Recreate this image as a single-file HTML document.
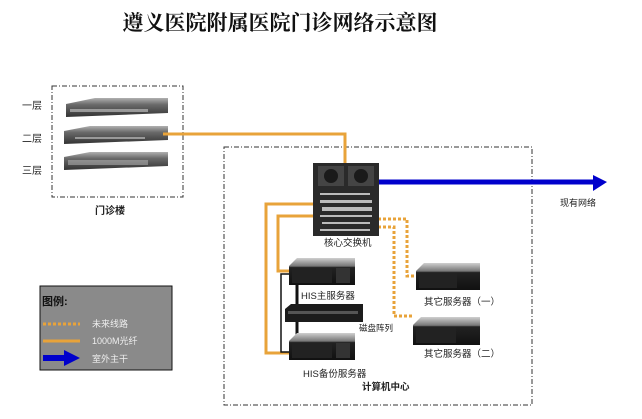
<!DOCTYPE html>
<html><head><meta charset="utf-8"><style>
html,body{margin:0;padding:0;background:#fff;}
svg{display:block;}
text{font-family:"Liberation Sans","Noto Sans CJK SC",sans-serif;fill:#222;}
</style></head><body>
<svg width="642" height="419" viewBox="0 0 642 419" xmlns="http://www.w3.org/2000/svg">
<defs>
<linearGradient id="sw" x1="0" y1="0" x2="0" y2="1"><stop offset="0" stop-color="#b0b0b0"/><stop offset="0.35" stop-color="#6a6a6a"/><stop offset="1" stop-color="#333"/></linearGradient>
<linearGradient id="sv" x1="0" y1="0" x2="0" y2="1"><stop offset="0" stop-color="#cfcfcf"/><stop offset="0.3" stop-color="#777"/><stop offset="0.35" stop-color="#222"/><stop offset="1" stop-color="#111"/></linearGradient>
</defs>
<text x="280" y="30" text-anchor="middle" style="font-family:'Liberation Serif','Noto Serif CJK SC',serif;font-weight:bold;font-size:21px;fill:#111">遵义医院附属医院门诊网络示意图</text>

<rect x="52" y="86" width="131" height="111" fill="none" stroke="#333" stroke-dasharray="5,2,1,2"/>
<g font-size="10"><text x="22" y="109">一层</text><text x="22" y="142">二层</text><text x="22" y="174">三层</text></g>
<text x="95" y="214" font-size="10" font-weight="bold">门诊楼</text>
<g>
<path d="M66 104 L95 98 L168 98 L168 113 L66 117 Z" fill="url(#sw)"/>
<rect x="70" y="109" width="78" height="3" fill="#ccc" opacity=".6"/>
<path d="M64 131 L90 126 L168 126 L168 140 L64 144 Z" fill="url(#sw)"/>
<rect x="75" y="137" width="70" height="2" fill="#ccc" opacity=".6"/>
<path d="M64 157 L90 152 L168 152 L168 166 L64 170 Z" fill="url(#sw)"/>
<rect x="68" y="160" width="80" height="5" fill="#bbb" opacity=".5"/>
</g>

<rect x="224" y="147" width="308" height="258" fill="none" stroke="#333" stroke-dasharray="5,2,1,2"/>

<polyline points="163,134 345,134 345,165" fill="none" stroke="#e8a33a" stroke-width="3"/>
<line x1="378" y1="182" x2="595" y2="182" stroke="#0000cc" stroke-width="5"/>
<polygon points="593,175 607,182 593,191" fill="#0000cc"/>
<text x="560" y="206" font-size="9">现有网络</text>

<polyline points="313,204 266,204 266,353 292,353" fill="none" stroke="#e8a33a" stroke-width="3"/>
<polyline points="313,216 278,216 278,271 292,271" fill="none" stroke="#e8a33a" stroke-width="3"/>
<polyline points="378,219 407,219 407,276 418,276" fill="none" stroke="#e8a33a" stroke-width="3" stroke-dasharray="3,2"/>
<polyline points="378,227 394,227 394,316 414,316" fill="none" stroke="#e8a33a" stroke-width="3" stroke-dasharray="3,2"/>
<polyline points="292,274 281,274 281,352 292,352" fill="none" stroke="#111" stroke-width="1.5"/>
<line x1="297" y1="285" x2="297" y2="335" stroke="#111" stroke-width="3"/>

<rect x="313" y="163" width="66" height="73" fill="#2a2a2a"/>
<rect x="318" y="166" width="26" height="20" fill="#444"/><rect x="348" y="166" width="26" height="20" fill="#444"/>
<circle cx="331" cy="176" r="7" fill="#1a1a1a"/><circle cx="361" cy="176" r="7" fill="#1a1a1a"/>
<g fill="#bbb"><rect x="320" y="193" width="50" height="2"/><rect x="320" y="200" width="52" height="3"/><rect x="322" y="207" width="50" height="4"/><rect x="320" y="215" width="52" height="2"/><rect x="322" y="222" width="48" height="2"/><rect x="320" y="229" width="50" height="2"/></g>
<text x="324" y="246" font-size="9.5">核心交换机</text>

<path d="M289 266 L297 258 L355 258 L355 285 L289 285 Z" fill="url(#sv)"/>
<rect x="292" y="268" width="40" height="15" fill="#222"/><rect x="336" y="268" width="14" height="15" fill="#333"/>
<text x="301" y="299" font-size="9.5">HIS主服务器</text>
<path d="M285 309 L291 304 L363 304 L363 322 L285 322 Z" fill="#1c1c1c"/>
<rect x="288" y="311" width="70" height="3" fill="#555"/>
<text x="359" y="331" font-size="8.5">磁盘阵列</text>
<path d="M289 341 L297 333 L355 333 L355 360 L289 360 Z" fill="url(#sv)"/>
<rect x="292" y="343" width="40" height="15" fill="#222"/><rect x="336" y="343" width="14" height="15" fill="#333"/>
<text x="303" y="377" font-size="9.5">HIS备份服务器</text>
<text x="362" y="390" font-size="9.5" font-weight="bold">计算机中心</text>

<path d="M416 271 L424 263 L480 263 L480 290 L416 290 Z" fill="url(#sv)"/>
<rect x="419" y="273" width="38" height="15" fill="#222"/>
<text x="424" y="305" font-size="9.5">其它服务器（一）</text>
<path d="M413 325 L421 317 L480 317 L480 345 L413 345 Z" fill="url(#sv)"/>
<rect x="416" y="327" width="40" height="16" fill="#222"/>
<text x="424" y="357" font-size="9.5">其它服务器（二）</text>

<rect x="40" y="286" width="132" height="84" fill="#8a8a8a" stroke="#111"/>
<text x="42" y="305" font-size="11" font-weight="bold" style="fill:#111">图例:</text>
<line x1="43" y1="324" x2="80" y2="324" stroke="#e8a33a" stroke-width="3" stroke-dasharray="3,2"/>
<text x="92" y="327" font-size="9" style="fill:#eee">未来线路</text>
<line x1="43" y1="341" x2="80" y2="341" stroke="#e8a33a" stroke-width="3"/>
<text x="92" y="344" font-size="9" style="fill:#eee">1000M光纤</text>
<rect x="43" y="355" width="22" height="6" fill="#0000cc"/>
<polygon points="64,350 80,358 64,366" fill="#0000cc"/>
<text x="92" y="362" font-size="9" style="fill:#eee">室外主干</text>
</svg>
</body></html>
